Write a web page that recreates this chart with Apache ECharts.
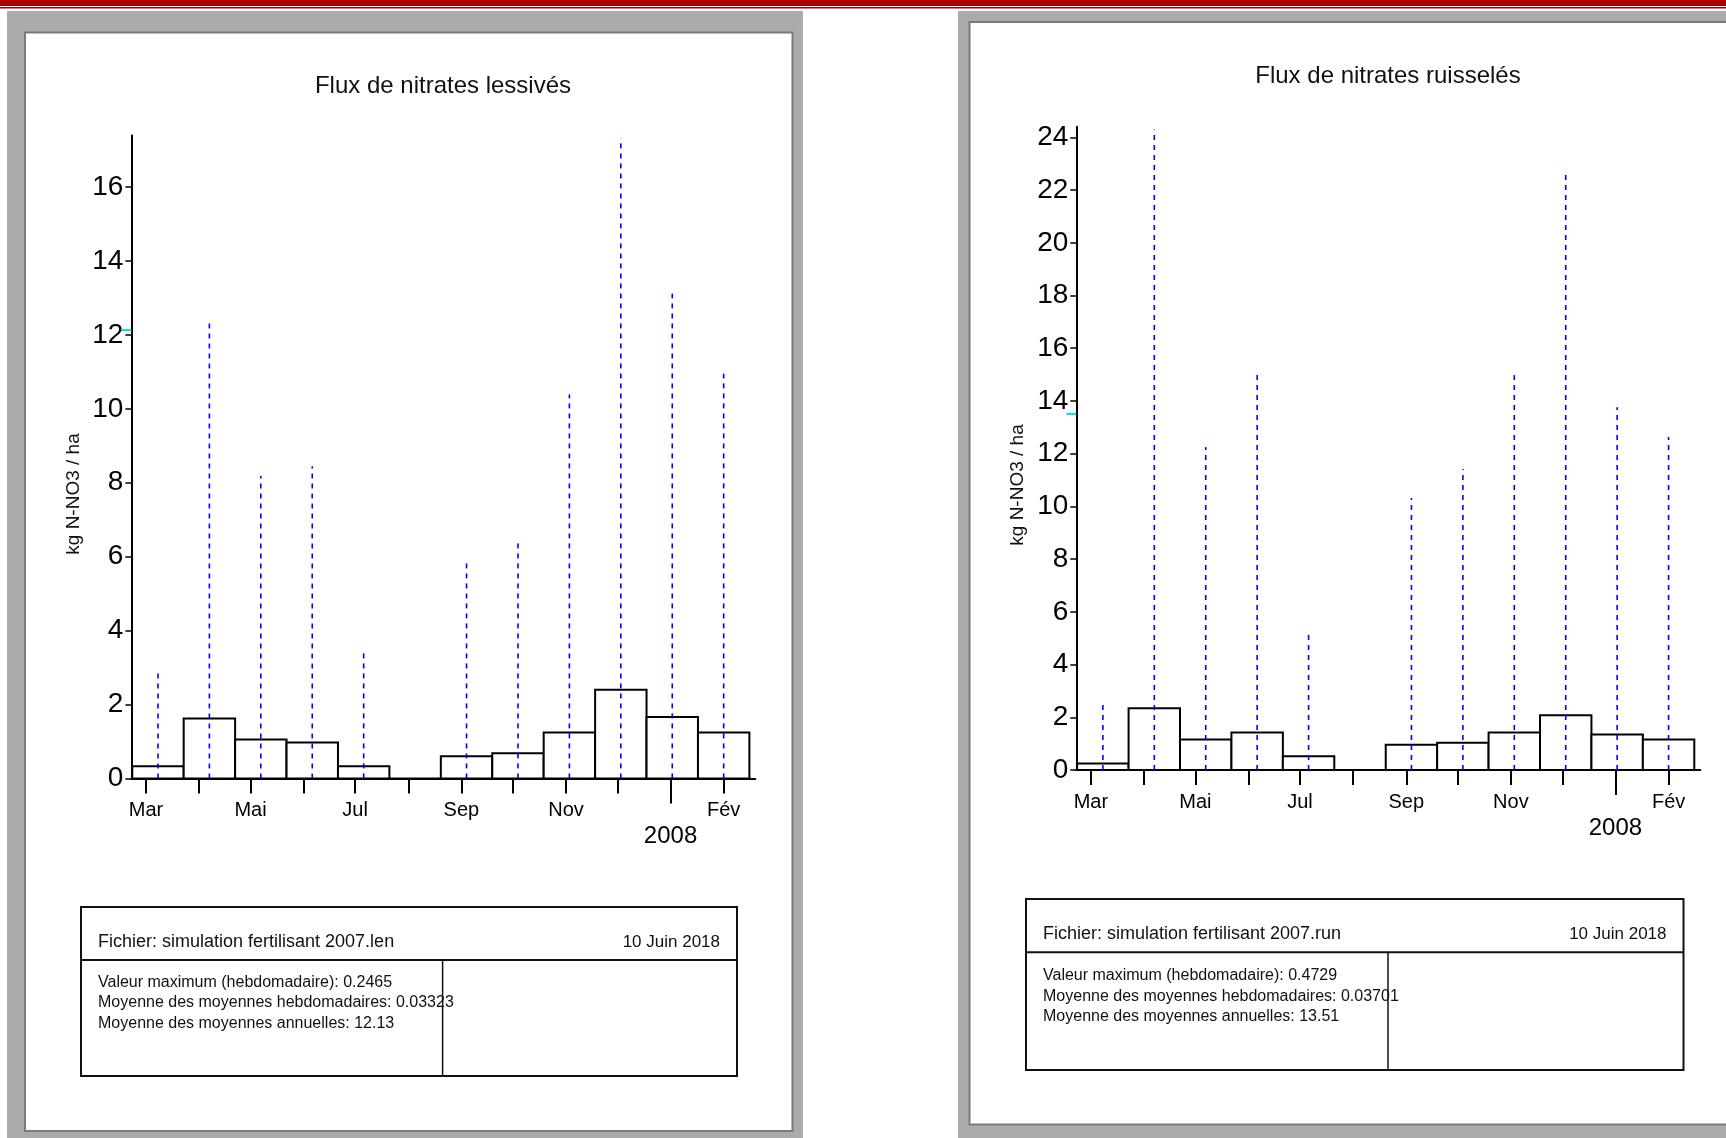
<!DOCTYPE html>
<html><head><meta charset="utf-8">
<script src="https://cdn.jsdelivr.net/npm/echarts@6/dist/echarts.min.js"></script>
<style>html,body{margin:0;padding:0;background:#fff;overflow:hidden}#c{width:1726px;height:1138px}</style>
</head><body><div id="c"></div>
<script>
// ---------------- data ----------------
// 30-day periods, in days counted from 1 March 2007
const periodStart = [-8, 22, 52, 82, 112, 142, 172, 202, 232, 262, 292, 322];
const periodEnd   = [22, 52, 82, 112, 142, 172, 202, 232, 262, 292, 322, 352];
const lessivesMoyenne  = [0.33, 1.62, 1.05, 0.97, 0.33, 0, 0.60, 0.68, 1.24, 2.40, 1.66, 1.24];
const lessivesMax      = [2.86, 12.35, 8.18, 8.45, 3.45, 0, 5.95, 6.41, 10.39, 17.32, 13.12, 10.95];
const ruisselesMoyenne = [0.25, 2.34, 1.16, 1.42, 0.52, 0, 0.96, 1.03, 1.42, 2.08, 1.35, 1.16];
const ruisselesMax     = [2.49, 24.30, 12.25, 14.98, 5.13, 0, 10.32, 11.42, 14.98, 22.71, 13.76, 12.63];
const lessivesAnnuelle  = 12.13;
const ruisselesAnnuelle = 13.51;
const monthTickDays  = [0, 31, 61, 92, 122, 153, 184, 214, 245, 275, 306, 337];
const monthLabelDays = [0, 61, 122, 184, 245, 337];
const monthLabels    = ['Mar', 'Mai', 'Jul', 'Sep', 'Nov', 'Fév'];
const yearTickDay = 306;
const yearLabel = '2008';
const lessivesYTicks  = [0, 2, 4, 6, 8, 10, 12, 14, 16];
const ruisselesYTicks = [0, 2, 4, 6, 8, 10, 12, 14, 16, 18, 20, 22, 24];
const titles = ['Flux de nitrates lessivés', 'Flux de nitrates ruisselés'];
const yName = 'kg N-NO3 / ha';
const infoLeft  = ['Fichier: simulation fertilisant 2007.len', '10 Juin 2018',
  'Valeur maximum (hebdomadaire): 0.2465', 'Moyenne des moyennes hebdomadaires: 0.03323', 'Moyenne des moyennes annuelles: 12.13'];
const infoRight = ['Fichier: simulation fertilisant 2007.run', '10 Juin 2018',
  'Valeur maximum (hebdomadaire): 0.4729', 'Moyenne des moyennes hebdomadaires: 0.03701', 'Moyenne des moyennes annuelles: 13.51'];

// ---------------- chart ----------------
const FONT = '"Liberation Sans", Arial, sans-serif';
const X_MIN = -8.5, X_MAX = 355.5;
const chart = echarts.init(document.getElementById('c'), null, {renderer: 'canvas'});

function xAxes(gi) {
  return [{
    gridIndex: gi, type: 'value', min: X_MIN, max: X_MAX, position: 'bottom',
    axisLine: {show: true, onZero: false, lineStyle: {color: '#000', width: 2}},
    axisTick: {show: true, customValues: monthTickDays, length: 15, lineStyle: {color: '#000', width: 2}},
    axisLabel: {show: true, customValues: monthLabelDays, margin: 22, fontSize: 20, color: '#000', fontFamily: FONT,
      formatter: v => monthLabels[monthLabelDays.indexOf(v)] || ''},
    splitLine: {show: false}
  }, {
    gridIndex: gi, type: 'value', min: X_MIN, max: X_MAX, position: 'bottom',
    axisLine: {show: false},
    axisTick: {show: true, customValues: [yearTickDay], length: 25, lineStyle: {color: '#000', width: 2}},
    axisLabel: {show: true, customValues: [yearTickDay], margin: 46, fontSize: 24, color: '#000', fontFamily: FONT,
      formatter: () => yearLabel},
    splitLine: {show: false}
  }];
}
function yAxis(gi, max, ticks) {
  return {
    gridIndex: gi, type: 'value', min: 0, max: max,
    axisLine: {show: true, onZero: false, lineStyle: {color: '#000', width: 2}},
    axisTick: {show: true, customValues: ticks, length: 6, lineStyle: {color: '#000', width: 1.5}},
    axisLabel: {show: true, customValues: ticks, margin: 8, fontSize: 28, color: '#000', fontFamily: FONT},
    splitLine: {show: false}
  };
}
function barSeries(xi, yi, vals) {
  return {
    type: 'custom', xAxisIndex: xi, yAxisIndex: yi, z: 2, clip: false,
    data: vals.map((v, i) => [periodStart[i], periodEnd[i], v]),
    encode: {x: [0, 1], y: 2},
    renderItem: (params, api) => {
      const p0 = api.coord([api.value(0), api.value(2)]);
      const p1 = api.coord([api.value(1), 0]);
      return {type: 'rect', shape: {x: p0[0], y: p0[1], width: p1[0] - p0[0], height: p1[1] - p0[1]},
        style: {fill: '#fff', stroke: '#000', lineWidth: 2}};
    }
  };
}
function peakSeries(xi, yi, vals) {
  return {
    type: 'custom', xAxisIndex: xi, yAxisIndex: yi, z: 3, clip: false,
    data: vals.map((v, i) => [periodStart[i], periodEnd[i], v]),
    encode: {x: [0, 1], y: 2},
    renderItem: (params, api) => {
      const v = api.value(2);
      if (!(v > 0)) return null;
      const mid = (api.value(0) + api.value(1)) / 2;
      const a = api.coord([mid, 0]);
      const b = api.coord([mid, v]);
      return {type: 'line', shape: {x1: a[0], y1: a[1], x2: b[0], y2: b[1]},
        style: {stroke: '#0000ff', lineWidth: 1.6, lineDash: [5, 5]}};
    }
  };
}
function meanSeries(xi, yi, val) {
  return {
    type: 'custom', xAxisIndex: xi, yAxisIndex: yi, z: 4, clip: false,
    data: [[X_MIN, val]],
    encode: {x: 0, y: 1},
    renderItem: (params, api) => {
      const p = api.coord([api.value(0), api.value(1)]);
      return {type: 'line', shape: {x1: p[0] - 10, y1: p[1], x2: p[0], y2: p[1]},
        style: {stroke: '#00d8e0', lineWidth: 2}};
    }
  };
}

function infoBox(x, y, w, h, hdrY, vX, hdrTextY, statY0, texts) {
  const els = [];
  els.push({type: 'rect', z: 1, shape: {x: x, y: y, width: w, height: h}, style: {fill: 'none', stroke: '#111', lineWidth: 2}});
  els.push({type: 'line', z: 1, shape: {x1: x, y1: hdrY, x2: x + w, y2: hdrY}, style: {stroke: '#111', lineWidth: 2}});
  els.push({type: 'line', z: 1, shape: {x1: vX, y1: hdrY, x2: vX, y2: y + h}, style: {stroke: '#111', lineWidth: 1.5}});
  els.push({type: 'text', z: 2, style: {text: texts[0], x: x + 17, y: hdrTextY, font: '18px ' + FONT, fill: '#111', textAlign: 'left', textVerticalAlign: 'middle'}});
  els.push({type: 'text', z: 2, style: {text: texts[1], x: x + w - 17, y: hdrTextY, font: '17px ' + FONT, fill: '#111', textAlign: 'right', textVerticalAlign: 'middle'}});
  for (let i = 2; i < 5; i++) {
    els.push({type: 'text', z: 2, style: {text: texts[i], x: x + 17, y: statY0 + (i - 2) * 20.4, font: '16px ' + FONT, fill: '#111', textAlign: 'left', textVerticalAlign: 'middle'}});
  }
  return els;
}
function yNameText(x, y) {
  return {type: 'text', z: 2, x: x, y: y, rotation: Math.PI / 2,
    style: {text: yName, x: 0, y: 0, font: '19px ' + FONT, fill: '#111', textAlign: 'center', textVerticalAlign: 'middle'}};
}

const graphics = [
  {type: 'rect', z: -10, shape: {x: 0, y: 0, width: 1726, height: 6}, style: {fill: '#a80000'}},
  {type: 'rect', z: -10, shape: {x: 0, y: 7, width: 1726, height: 1.5}, style: {fill: '#a80000'}},
  {type: 'rect', z: -10, shape: {x: 7, y: 11, width: 796, height: 1127}, style: {fill: '#ababab'}},
  {type: 'rect', z: -9, shape: {x: 25, y: 32.5, width: 767.5, height: 1098.5}, style: {fill: '#fff', stroke: '#7a7a7a', lineWidth: 2}},
  {type: 'rect', z: -10, shape: {x: 958, y: 11, width: 800, height: 1127}, style: {fill: '#ababab'}},
  {type: 'rect', z: -9, shape: {x: 969.5, y: 22, width: 800, height: 1102.5}, style: {fill: '#fff', stroke: '#7a7a7a', lineWidth: 2}},
  {type: 'text', z: 2, style: {text: titles[0], x: 443, y: 86, font: '24px ' + FONT, fill: '#111', textAlign: 'center', textVerticalAlign: 'middle'}},
  {type: 'text', z: 2, style: {text: titles[1], x: 1388, y: 76, font: '24px ' + FONT, fill: '#111', textAlign: 'center', textVerticalAlign: 'middle'}},
  yNameText(74, 494),
  yNameText(1018, 485)
].concat(
  infoBox(81, 907, 656, 169, 960, 442.6, 942, 982.5, infoLeft),
  infoBox(1026, 899, 657.5, 171, 952.3, 1388, 934, 975.8, infoRight)
);

chart.setOption({
  animation: false,
  backgroundColor: 'transparent',
  textStyle: {fontFamily: FONT},
  grid: [
    {left: 131.4, top: 135.4, width: 624, height: 643, containLabel: false},
    {left: 1076.3, top: 126.8, width: 624, height: 643.2, containLabel: false}
  ],
  xAxis: xAxes(0).concat(xAxes(1)),
  yAxis: [yAxis(0, 17.4, lessivesYTicks), yAxis(1, 24.4, ruisselesYTicks)],
  series: [
    barSeries(0, 0, lessivesMoyenne), peakSeries(0, 0, lessivesMax), meanSeries(0, 0, lessivesAnnuelle),
    barSeries(2, 1, ruisselesMoyenne), peakSeries(2, 1, ruisselesMax), meanSeries(2, 1, ruisselesAnnuelle)
  ],
  graphic: {elements: graphics}
});
</script>
</body></html>
